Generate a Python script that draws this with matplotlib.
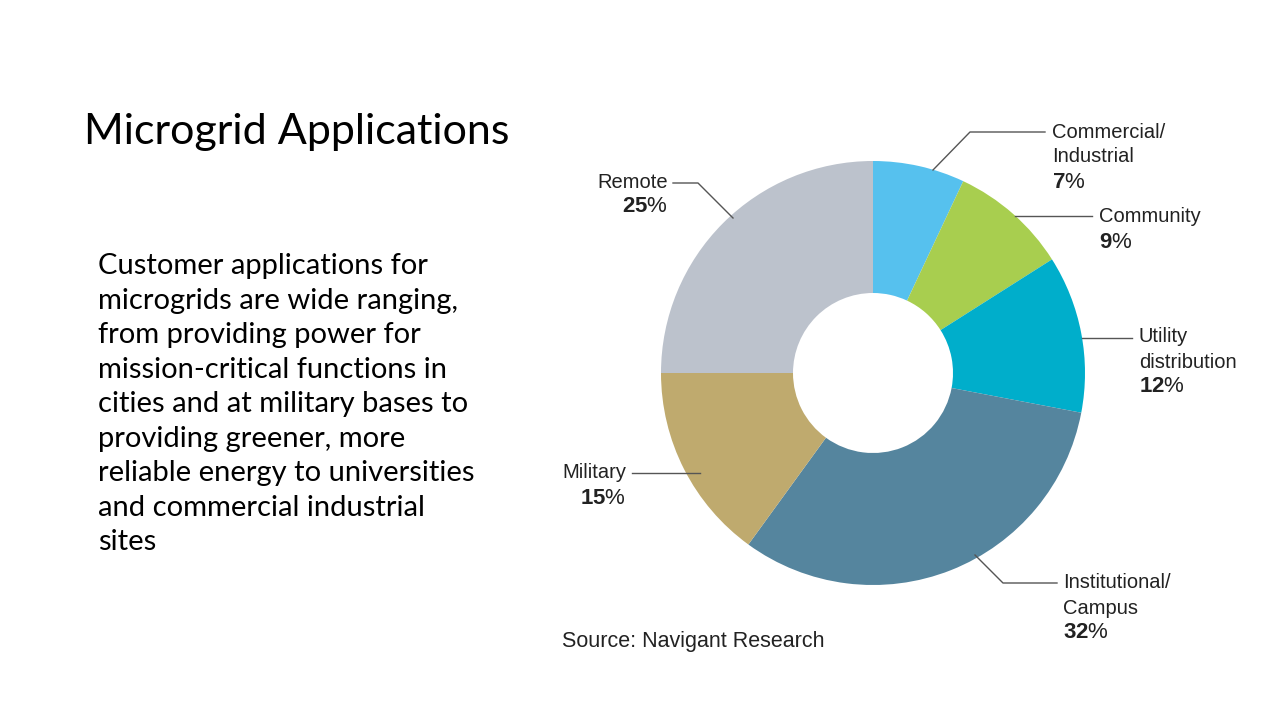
import matplotlib.pyplot as plt

plt.rcParams['mathtext.fontset'] = 'custom'
plt.rcParams['mathtext.rm'] = 'Liberation Sans'
plt.rcParams['mathtext.bf'] = 'Liberation Sans:bold'

categories = ['Commercial/\nIndustrial', 'Community', 'Utility\ndistribution',
              'Institutional/\nCampus', 'Military', 'Remote']
shares = [7, 9, 12, 32, 15, 25]
colors = ['#56C1EE', '#A8CE4F', '#00AECB', '#55859E', '#BFAA6E', '#BCC2CC']

# centre y of first label line (px), leader line points (px), alignment
label_pos = [(1052, 132), (1099, 217), (1139, 337), (1063, 583), (626, 473), (668, 182)]
leaders = [
    [(933, 170), (970, 132), (1045, 132)],
    [(1015, 216), (1092, 216)],
    [(1082, 338), (1132, 338)],
    [(975, 555), (1003, 583), (1057, 583)],
    [(632, 473), (700, 473)],
    [(673, 183), (698, 183), (733, 218)],
]
aligns = ['left', 'left', 'left', 'left', 'right', 'right']

W, H = 1280, 720
fig = plt.figure(figsize=(12.8, 7.2), dpi=100)
cx, cy, R = 873, 373, 212
ax = fig.add_axes([(cx - R) / W, 1 - (cy + R) / H, 2 * R / W, 2 * R / H])
ax.pie(shares, colors=colors, startangle=90, counterclock=False,
       wedgeprops=dict(width=1 - 80 / 212, linewidth=0))
ax.set_xlim(-1, 1)
ax.set_ylim(-1, 1)
ax.set_aspect('equal')
ax.axis('off')

ov = fig.add_axes([0, 0, 1, 1])
ov.set_xlim(0, W)
ov.set_ylim(H, 0)
ov.axis('off')

for cat, val, (tx, ty), pts, ha in zip(categories, shares, label_pos, leaders, aligns):
    ov.plot([p[0] for p in pts], [p[1] for p in pts], color='#555555', lw=1)
    lines = cat.split('\n')
    for i, line in enumerate(lines):
        ov.text(tx, ty + 25 * i, line, ha=ha, va='center', fontsize=14.5,
                family='Liberation Sans', color='#222222')
    ov.text(tx, ty + 25 * len(lines), r'$\mathbf{%d}$%%' % val, ha=ha, va='center',
            fontsize=16, family='Liberation Sans', color='#222222')

ov.text(562, 641, 'Source: Navigant Research', fontsize=15.5, family='Liberation Sans',
        color='#222222', va='center')

ov.text(84, 132, 'Microgrid Applications', fontsize=31, family='Lato', va='center')

body = ['Customer applications for', 'microgrids are wide ranging,', 'from providing power for',
        'mission-critical functions in', 'cities and at military bases to', 'providing greener, more',
        'reliable energy to universities', 'and commercial industrial', 'sites']
for i, line in enumerate(body):
    ov.text(98, 266 + 34.5 * i, line, fontsize=21, family='Lato', va='center')

fig.savefig('out.png', dpi=100)
